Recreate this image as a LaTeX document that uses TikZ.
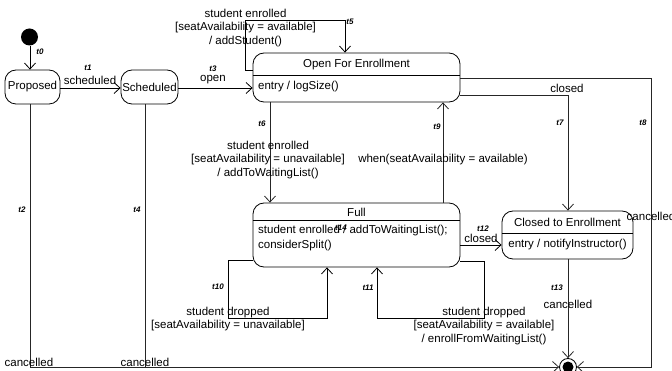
\documentclass[tikz,border=0pt]{standalone}
\usepackage{fontspec}
\setmainfont{Liberation Sans}
\usetikzlibrary{arrows.meta}
\begin{document}
\begin{tikzpicture}[x=1pt,y=-1pt,
  every node/.style={font=\fontsize{11.5}{13.8}\selectfont},
  st/.style={draw=black,line width=0.8pt,rounded corners=11pt,inner sep=0pt},
  txt/.style={inner sep=0pt,align=center},
  tl/.style={inner sep=0pt,font=\fontsize{8}{9}\selectfont\bfseries\itshape},
  arr/.style={draw=black!85,line width=0.8pt,-{Straight Barb[length=6pt,width=11pt]}},
  ln/.style={draw=black!85,line width=0.8pt}]
\useasboundingbox (0,0) rectangle (672,371);
% states
\node[circle,fill=black,minimum size=17pt,inner sep=0pt] (init) at (29.5,37) {};
\node[st,minimum width=55pt,minimum height=34pt] (prop) at (32.5,87) {Proposed};
\node[st,minimum width=57pt,minimum height=34pt] (sched) at (149.5,87) {Scheduled};
\node[st,minimum width=207pt,minimum height=49pt] (open) at (356.5,77.5) {};
\node[st,minimum width=207pt,minimum height=64pt] (full) at (356.5,235) {};
\node[st,minimum width=131pt,minimum height=48pt] (closed) at (567.5,235) {};
\node[circle,draw=black,line width=0.8pt,minimum size=17pt,inner sep=0pt] (final) at (568,367) {};
\node[circle,fill=black,minimum size=11pt,inner sep=0pt] (finalin) at (final) {};
% compartments
\coordinate (d1) at (0,75);
\coordinate (d2) at (0,220);
\coordinate (d3) at (0,233);
\draw[line width=0.8pt] (open.west |- d1) -- (open.east |- d1);
\draw[line width=0.8pt] (full.west |- d2) -- (full.east |- d2);
\draw[line width=0.8pt] (closed.west |- d3) -- (closed.east |- d3);
\node[txt] (opent) at (356.5,65) {Open For Enrollment};
\node[txt,anchor=west] (openb) at (258,87) {entry / logSize()};
\node[txt] (fullt) at (356.5,212) {Full};
\node[txt,anchor=north west,align=left,font=\fontsize{11.5}{15}\selectfont] (fullb) at (258,225) {student enrolled / addToWaitingList();\\considerSplit()};
\node[txt] (closedt) at (567.5,222) {Closed to Enrollment};
\node[txt] (closedb) at (567.5,245) {entry / notifyInstructor()};
% connector coordinates
\coordinate (c5a) at (245,70);
\coordinate (c5b) at (245,20);
\coordinate (c5c) at (345,20);
\coordinate (c6) at (270,150);
\coordinate (c9) at (443,150);
\coordinate (c7) at (568,95);
\coordinate (c8a) at (651,78);
\coordinate (c8b) at (651,367);
\coordinate (c2) at (30,367);
\coordinate (c4) at (145,367);
\coordinate (c3) at (0,88);
\coordinate (c12) at (0,245);
\coordinate (c10a) at (228,260);
\coordinate (c10b) at (228,318);
\coordinate (c10c) at (327,318);
\coordinate (c11a) at (484,261);
\coordinate (c11b) at (484,318);
\coordinate (c11c) at (377,318);
% connectors
\draw[arr,draw=black] (init.south -| c2) -- (prop.north -| c2);
\draw[arr,draw=black] (prop.east |- c3) -- (sched.west |- c3);
\draw[arr,draw=black] (sched.east |- c3) -- (open.west |- c3);
\draw[arr,draw=black] (c5a -| open.west) -- (c5a) -- (c5b) -- (c5c) -- (c5c |- open.north);
\draw[arr] (open.south -| c6) -- (full.north -| c6);
\draw[arr] (full.north -| c9) -- (open.south -| c9);
\draw[arr] (c7 -| open.east) -- (c7) -- (c7 |- closed.north);
\draw[arr] (c8a -| open.east) -- (c8a) -- (c8b) -- (final.east);
\draw[arr] (closed.south -| final) -- (final.north);
\draw[arr] (prop.south -| c2) -- (c2) -- (final.west);
\draw[ln] (sched.south -| c4) -- (c4);
\draw[arr,draw=black] (full.east |- c12) -- (closed.west |- c12);
\draw[arr,draw=black] (c10a -| full.west) -- (c10a) -- (c10b) -- (c10c) -- (c10c |- full.south);
\draw[arr,draw=black] (c11a -| full.east) -- (c11a) -- (c11b) -- (c11c) -- (c11c |- full.south);
% labels
\node[tl] (l0) at (40,52) {t0};
\node[tl] (l1) at (88,68) {t1};
\node[txt] (e1) at (90,80) {scheduled};
\node[tl] (l3) at (213,69) {t3};
\node[txt] (e3) at (213,80) {open};
\node[tl] (l5) at (350,22) {t5};
\node[txt] (e5) at (245.5,28) {student enrolled\\{[seatAvailability = available]}\\/ addStudent()};
\node[tl] (l6) at (262,124) {t6};
\node[txt] (e6) at (268,160) {student enrolled\\{[seatAvailability = unavailable]}\\/ addToWaitingList()};
\node[tl] (l9) at (437,127) {t9};
\node[txt] (e9) at (443,160) {when(seatAvailability = available)};
\node[tl] (l7) at (560,123) {t7};
\node[txt] (e7) at (567,88) {closed};
\node[tl] (l8) at (643,123) {t8};
\node[txt] (e8) at (651,216) {cancelled};
\node[tl] (l12) at (483,229) {t12};
\node[txt] (e12) at (481,238) {closed};
\node[tl] (l13) at (557,288) {t13};
\node[txt] (e13) at (568,304) {cancelled};
\node[tl] (l14) at (341,228) {t14};
\node[tl] (l2) at (22,210) {t2};
\node[txt] (e2) at (29,362) {cancelled};
\node[tl] (l4) at (137,210) {t4};
\node[txt] (e4) at (145,362) {cancelled};
\node[tl] (l10) at (218,287) {t10};
\node[txt] (e10) at (228,319) {student dropped\\{[seatAvailability = unavailable]}};
\node[tl] (l11) at (368,288) {t11};
\node[txt] (e11) at (484,326) {student dropped\\{[seatAvailability = available]}\\/ enrollFromWaitingList()};
\end{tikzpicture}
\end{document}
